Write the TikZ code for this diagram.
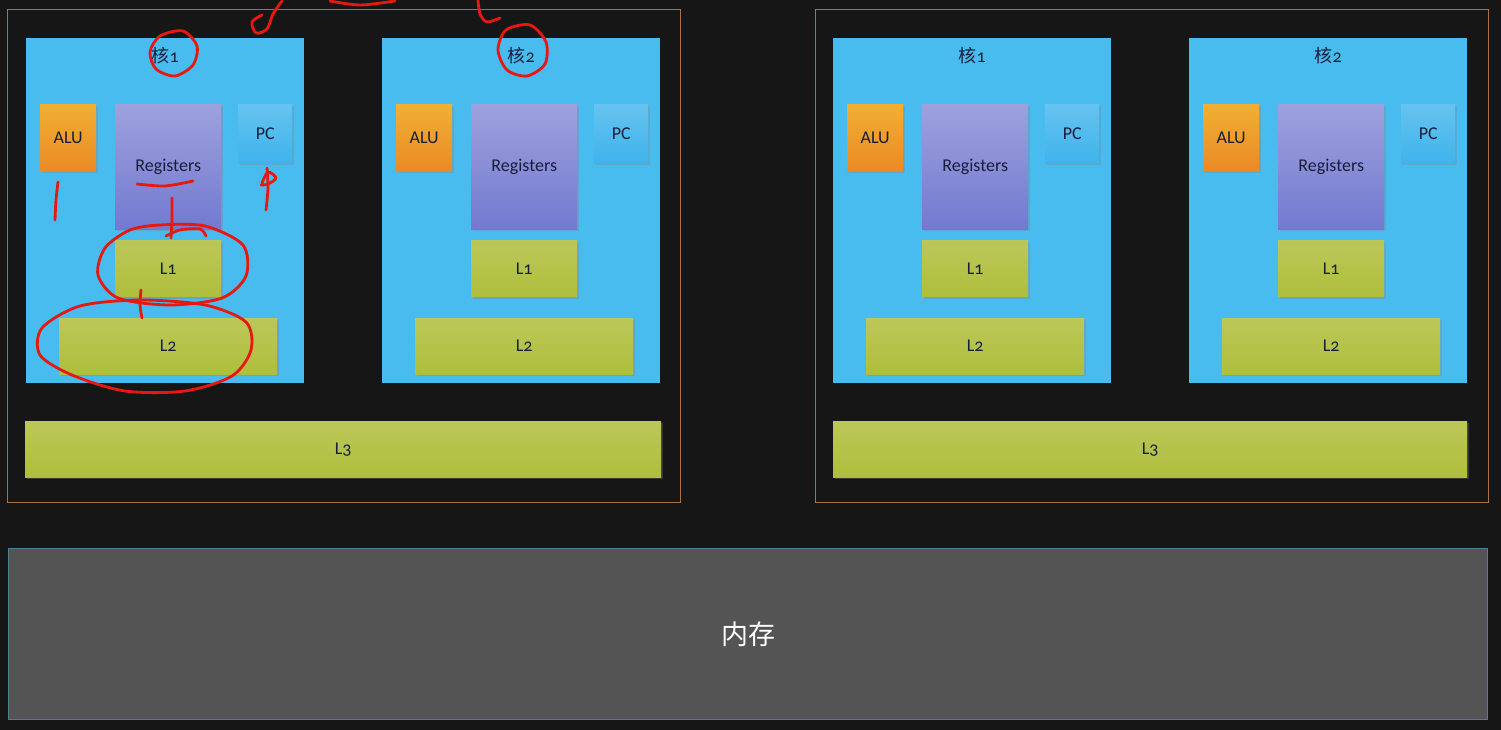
\documentclass[tikz,border=0pt]{standalone}
\usepackage{fontspec}
\setmainfont{Carlito}[Numbers=OldStyle]
\newfontfamily\cjk{Noto Sans CJK SC}
\usetikzlibrary{positioning, shadows}
\definecolor{cvbg}{HTML}{161616}
\definecolor{cvframe}{HTML}{A8703A}
\definecolor{cvcore}{HTML}{48BBEF}
\definecolor{cvtext}{HTML}{16203A}
\definecolor{cvmem}{HTML}{535453}
\definecolor{cvmemline}{HTML}{4E8090}
\definecolor{cvred}{HTML}{E81810}
\definecolor{cvalu}{HTML}{EA8A26}
\definecolor{cvreg}{HTML}{7379CF}
\definecolor{cvpc}{HTML}{3FB4EC}
\definecolor{cvcache}{HTML}{AFBE3C}

\begin{document}
\begin{tikzpicture}[
    x=1pt, y=-1pt,
    chip/.style={rectangle, draw=cvframe, line width=1.3pt, inner sep=0pt,
                 minimum width=673pt, minimum height=493pt, anchor=north west},
    core/.style={rectangle, fill=cvcore, inner sep=0pt, minimum width=278pt,
                 minimum height=345pt, anchor=north west},
    title/.style={font=\fontsize{18}{20}\selectfont, text=cvtext, inner sep=0pt},
    unit/.style={rectangle, inner sep=0pt, text=cvtext, font=\fontsize{18}{20}\selectfont,
                 drop shadow={opacity=0.3, shadow xshift=2pt, shadow yshift=-2pt}},
    alu/.style={unit, top color=cvalu!75!yellow!90!white, bottom color=cvalu,
                minimum width=56pt, minimum height=67pt},
    regs/.style={unit, top color=cvreg!70!white, bottom color=cvreg,
                 minimum width=106pt, minimum height=125pt},
    pcbox/.style={unit, top color=cvpc!80!white, bottom color=cvpc,
                  minimum width=54pt, minimum height=59pt},
    cache/.style={unit, top color=cvcache!85!white, bottom color=cvcache, minimum height=56pt},
    mem/.style={rectangle, fill=cvmem, draw=cvmemline, line width=1.2pt, inner sep=0pt,
                minimum width=1479pt, minimum height=171pt, anchor=north west,
                text=white, font=\cjk\fontsize{27}{30}\selectfont},
    scribble/.style={draw=cvred, line width=2.8pt, line cap=round, line join=round}
  ]
    \fill[cvbg] (0,0) rectangle (1501,730);
    \useasboundingbox (0,0) rectangle (1501,730);

    % left chip
    \node[chip] (chipA) at (7,9) {};
    \node[core] (c1) at (26,38) {};
    \node[title, below=9pt of c1.north] (t1) {{\cjk 核}1};
    \node[alu, below right=66pt and 14pt of c1.north west] (alu1) {ALU};
    \node[regs, below right=66pt and 89pt of c1.north west] (reg1) {Registers};
    \node[pcbox, below right=66pt and 212pt of c1.north west] (pc1) {PC};
    \node[cache, minimum width=106pt, below=11pt of reg1] (lone1) {L1};
    \node[cache, minimum width=218pt, below=21pt of lone1] (ltwo1) {L2};

    \node[core] (c2) at (382,38) {};
    \node[title, below=9pt of c2.north] (t2) {{\cjk 核}2};
    \node[alu, below right=66pt and 14pt of c2.north west] (alu2) {ALU};
    \node[regs, below right=66pt and 89pt of c2.north west] (reg2) {Registers};
    \node[pcbox, below right=66pt and 212pt of c2.north west] (pc2) {PC};
    \node[cache, minimum width=106pt, below=11pt of reg2] (lone2) {L1};
    \node[cache, minimum width=218pt, below=21pt of lone2] (ltwo2) {L2};

    \node[cache, minimum width=636pt, anchor=north west] (lthreeA) at (25,421) {L3};

    % right chip
    \node[chip] (chipB) at (815,9) {};
    \node[core] (c3) at (833,38) {};
    \node[title, below=9pt of c3.north] (t3) {{\cjk 核}1};
    \node[alu, below right=66pt and 14pt of c3.north west] (alu3) {ALU};
    \node[regs, below right=66pt and 89pt of c3.north west] (reg3) {Registers};
    \node[pcbox, below right=66pt and 212pt of c3.north west] (pc3) {PC};
    \node[cache, minimum width=106pt, below=11pt of reg3] (lone3) {L1};
    \node[cache, minimum width=218pt, below=21pt of lone3] (ltwo3) {L2};

    \node[core] (c4) at (1189,38) {};
    \node[title, below=9pt of c4.north] (t4) {{\cjk 核}2};
    \node[alu, below right=66pt and 14pt of c4.north west] (alu4) {ALU};
    \node[regs, below right=66pt and 89pt of c4.north west] (reg4) {Registers};
    \node[pcbox, below right=66pt and 212pt of c4.north west] (pc4) {PC};
    \node[cache, minimum width=106pt, below=11pt of reg4] (lone4) {L1};
    \node[cache, minimum width=218pt, below=21pt of lone4] (ltwo4) {L2};

    \node[cache, minimum width=634pt, anchor=north west] (lthreeB) at (833,421) {L3};

    % main memory
    \node[mem] (mem) at (8,548) {内存};

    % red marks drawn over the slide
    \draw[scribble] plot[smooth cycle] coordinates {(183,31) (160,36) (150,52) (156,69) (175,76) (193,65) (197,46)};
    \draw[scribble] plot[smooth cycle] coordinates {(530,25) (506,30) (498,50) (507,70) (527,76) (545,64) (546,42)};
    \draw[scribble] plot[smooth] coordinates {(282,1) (273,14) (267,29) (256,33) (252,22) (262,15)};
    \draw[scribble] plot[smooth] coordinates {(330,1) (360,5) (395,1)};
    \draw[scribble] plot[smooth] coordinates {(478,0) (480,14) (487,22) (500,18)};
    \draw[scribble] plot[smooth] coordinates {(137,184) (165,186) (193,181)};
    \draw[scribble] plot[smooth] coordinates {(58,182) (56,200) (55,220)};
    \draw[scribble] plot[smooth] coordinates {(267,168) (268,188) (266,210)};
    \draw[scribble] plot[smooth] coordinates {(262,183) (268,172) (276,178) (268,184) (261,185)};
    \draw[scribble] plot[smooth] coordinates {(172,198) (172,220) (171,238)};
    \draw[scribble] plot[smooth] coordinates {(166,236) (180,230) (200,229) (206,236)};
    \draw[scribble] plot[smooth cycle] coordinates {(130,230) (105,248) (98,275) (118,298) (170,305) (222,298) (246,276) (243,245) (205,226) (160,225)};
    \draw[scribble] plot[smooth cycle] coordinates {(80,306) (42,328) (40,355) (72,375) (125,391) (185,391) (232,376) (251,350) (246,322) (205,305) (140,300)};
    \draw[scribble] plot[smooth] coordinates {(141,290) (140,305) (142,318)};
  \end{tikzpicture}
\end{document}
